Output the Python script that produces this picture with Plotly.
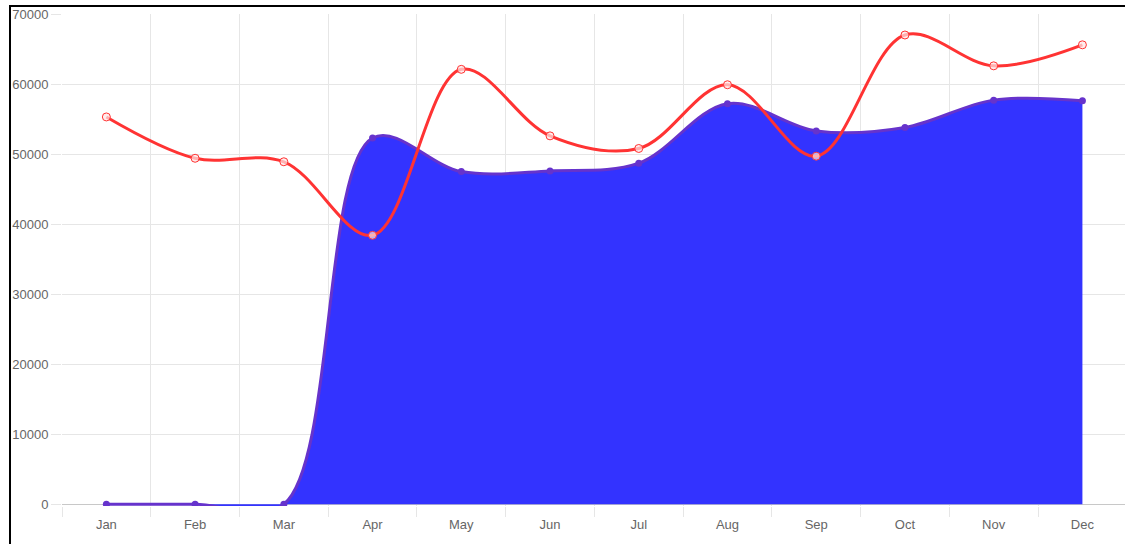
import plotly.graph_objects as go

months = ["Jan", "Feb", "Mar", "Apr", "May", "Jun", "Jul", "Aug", "Sep", "Oct", "Nov", "Dec"]
area_values = [0, 0, 0, 52300, 47500, 47600, 48700, 57200, 53300, 53800, 57700, 57600]
line_values = [55300, 49400, 48900, 38400, 62100, 52600, 50800, 59900, 49700, 67000, 62600, 65600]
y_ticks = [0, 10000, 20000, 30000, 40000, 50000, 60000, 70000]

W, H = 1125, 544
L, R, T = 62, 0, 14
y_min, y_max = -250, 70000
px_per_unit = 490 / 70000
B = H - (504 + (0 - y_min) * px_per_unit)

x_idx = list(range(len(months)))

fig = go.Figure()
fig.add_trace(go.Scatter(
    x=x_idx, y=area_values, mode="lines+markers",
    line=dict(color="rgb(102,51,204)", width=3, shape="spline", smoothing=1),
    marker=dict(color="rgb(102,51,204)", size=7),
    fill="tozeroy", fillcolor="#3333ff", showlegend=False,
))
fig.add_trace(go.Scatter(
    x=x_idx, y=line_values, mode="lines+markers",
    line=dict(color="#ff3333", width=3, shape="spline", smoothing=1),
    marker=dict(color="rgba(255,230,230,0.7)", size=8, line=dict(color="#ff3333", width=1)),
    showlegend=False,
))

font = dict(family="Liberation Sans, Arial, sans-serif", size=13, color="#666666")

fig.update_layout(
    width=W, height=H,
    margin=dict(l=L, r=R, t=T, b=B, autoexpand=False),
    paper_bgcolor="white", plot_bgcolor="white",
    font=font,
    xaxis=dict(
        range=[-0.5, 11.48], tickmode="array", tickvals=x_idx, ticktext=months,
        showgrid=False, ticks="outside", ticklen=6, tickcolor="rgba(0,0,0,0)",
        zeroline=False, showline=False, automargin=False,
        minor=dict(tickmode="array", tickvals=[i - 0.5 for i in range(13)],
                   showgrid=True, gridcolor="#e6e6e6", gridwidth=1,
                   ticks="outside", ticklen=10, tickcolor="#e6e6e6"),
        tickfont=font,
    ),
    yaxis=dict(
        range=[y_min, y_max], tickmode="array", tickvals=y_ticks,
        showgrid=True, gridcolor="#e6e6e6", gridwidth=1,
        zeroline=True, zerolinecolor="#c8c8c8", zerolinewidth=1,
        ticks="outside", ticklen=10, tickcolor="#e6e6e6", automargin=False,
        showline=False, tickfont=font, tickformat="d",
    ),
)

# frame around the chart (as in the screenshot)
plot_h = H - T - B
plot_w = W - L - R
fig.add_shape(type="rect", xref="paper", yref="paper",
              x0=(10 - L) / plot_w, x1=(W + 5 - L) / plot_w,
              y0=-(H + 10 - (T + plot_h)) / plot_h, y1=1 + (T - 6) / plot_h,
              line=dict(color="black", width=2), fillcolor="rgba(0,0,0,0)", layer="above")

fig.write_html("out.html", config={"displayModeBar": False},
               post_script="document.body.style.margin='0';document.body.style.overflow='hidden';")
